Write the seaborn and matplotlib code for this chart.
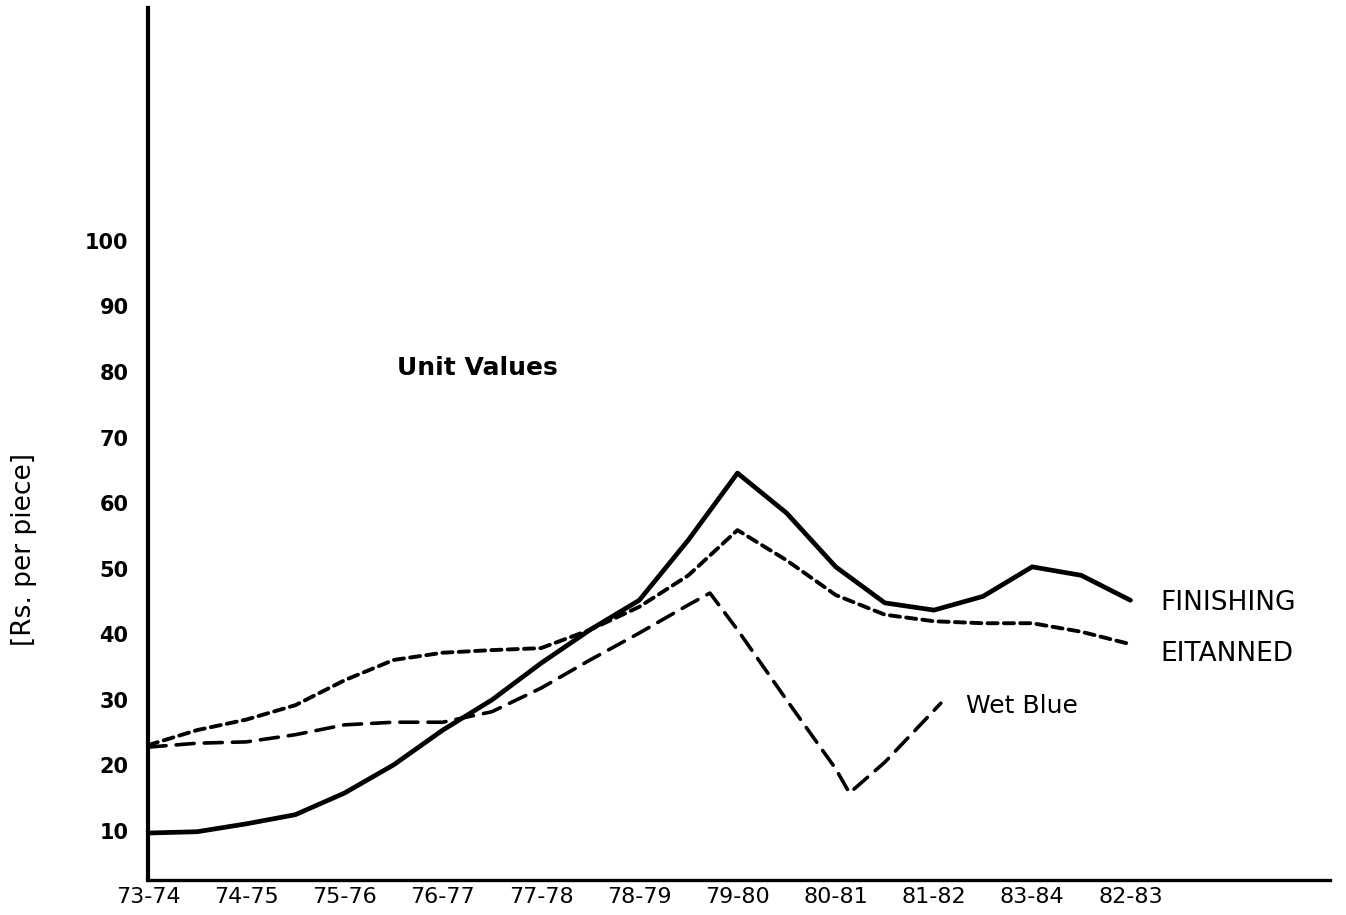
import matplotlib
matplotlib.use("Agg")
import matplotlib.pyplot as plt                                      # Drawing the figure.
import matplotlib.transforms as mtransforms                          # Small offset for the y tick labels.
import seaborn as sns                                                # Line drawing.
import pandas as pd                                                  # Long-form table for seaborn.

# ============================================ #
# DATA (Rs. per piece)      #
# ============================================ #

years = ["73-74", "74-75", "75-76", "76-77", "77-78", "78-79",
         "79-80", "80-81", "81-82", "83-84", "82-83"]                 # Printed as in the original (incl. its typo order)

finishing_x = [0, 0.5, 1, 1.5, 2, 2.5, 3, 3.5, 4, 4.5, 5, 5.5, 6, 6.5, 7, 7.5, 8, 8.5, 9, 9.5, 10]
finishing_y = [7.7, 7.9, 9.1, 10.5, 13.8, 18.1, 23.4, 28.0, 33.6, 38.7, 43.2, 52.4, 62.6,
               56.5, 48.3, 42.8, 41.7, 43.8, 48.3, 47.0, 43.2]

eitanned_x = [0, 0.5, 1, 1.5, 2, 2.5, 3, 3.5, 4, 4.5, 5, 5.5, 6, 6.5, 7, 7.5, 8, 8.5, 9, 9.5, 10]
eitanned_y = [21.1, 23.4, 25.0, 27.2, 31.0, 34.1, 35.2, 35.6, 35.9, 38.7, 42.2, 47.0, 53.9,
              49.3, 44.0, 41.0, 40.0, 39.7, 39.7, 38.4, 36.5]

wetblue_x = [0, 0.5, 1, 1.5, 2, 2.5, 3, 3.5, 4, 4.5, 5, 5.5, 5.72, 6, 6.5, 7, 7.14, 7.5, 8.07]
wetblue_y = [20.8, 21.4, 21.6, 22.7, 24.2, 24.6, 24.6, 26.2, 29.8, 34.1, 38.2, 42.5, 44.3,
             38.7, 28.0, 17.5, 13.8, 18.5, 27.5]

y_ticks = [10, 20, 30, 40, 50, 60, 70, 80, 90, 100]


def build_frame():
    rows = []
    for name, xs, ys in [("FINISHING", finishing_x, finishing_y),
                         ("EITANNED", eitanned_x, eitanned_y),
                         ("Wet Blue", wetblue_x, wetblue_y)]:
        for x, y in zip(xs, ys):
            rows.append({"Year": x, "Value": y, "Series": name})
    return pd.DataFrame(rows)


df = build_frame()

sns.set_theme(style="white")
plt.rcParams['font.family'] = ['DejaVu Sans']
plt.rcParams['text.color'] = 'black'
plt.rcParams['xtick.color'] = 'black'
plt.rcParams['ytick.color'] = 'black'

fig = plt.figure(figsize=(13.46, 9.15), dpi=100)
ax = fig.add_axes([0.110, 0.038, 0.878, 0.953])

styles = {
    "FINISHING": dict(linewidth=3.4, linestyle="-"),
    "EITANNED": dict(linewidth=2.8, linestyle=(0, (2.6, 1.6))),
    "Wet Blue": dict(linewidth=2.6, linestyle=(0, (5.0, 2.8))),
}
for name, kws in styles.items():
    sns.lineplot(data=df[df["Series"] == name], x="Year", y="Value",
                 color="black", sort=False, estimator=None, ax=ax,
                 solid_capstyle="round", dash_capstyle="round",
                 solid_joinstyle="round", dash_joinstyle="round", **kws)

# Axes frame: only left and bottom, thick like the hand drawing
ax.set_xlim(0, 12.03)
ax.set_ylim(0.5, 133.5)
for side in ["top", "right"]:
    ax.spines[side].set_visible(False)
ax.spines["left"].set_linewidth(3.0)
ax.spines["bottom"].set_linewidth(2.4)
ax.spines["left"].set_color("black")
ax.spines["bottom"].set_color("black")

ax.set_xticks(range(len(years)))
ax.set_xticklabels(years, fontsize=16)
ax.set_yticks(y_ticks)
ax.set_yticklabels([str(t) for t in y_ticks], fontsize=15, fontweight="bold")
ax.tick_params(axis="x", direction="in", length=5, width=1.5, color="black", pad=5)
ax.tick_params(axis="y", direction="out", length=4, width=1.5, color="black", pad=10)
for lab in ax.get_yticklabels():                                     # Labels sit a little below their ticks
    lab.set_transform(lab.get_transform() + mtransforms.ScaledTranslation(0, -13 / 100, fig.dpi_scale_trans))

ax.set_xlabel("")
ax.set_ylabel("")
ax.grid(False)

# Texts
fig.text(0.018, 0.40, "[Rs. per piece]", rotation=90, ha="center", va="center", fontsize=19)
ax.text(2.53, 78.6, "Unit Values", fontsize=18, fontweight="bold", ha="left", va="center")
ax.text(10.3, 42.8, "FINISHING", fontsize=19, ha="left", va="center")
ax.text(10.3, 35.0, "EITANNED", fontsize=19, ha="left", va="center")
ax.text(8.33, 27.0, "Wet Blue", fontsize=18, ha="left", va="center")

fig.savefig("out.png", dpi=100, facecolor="white")
